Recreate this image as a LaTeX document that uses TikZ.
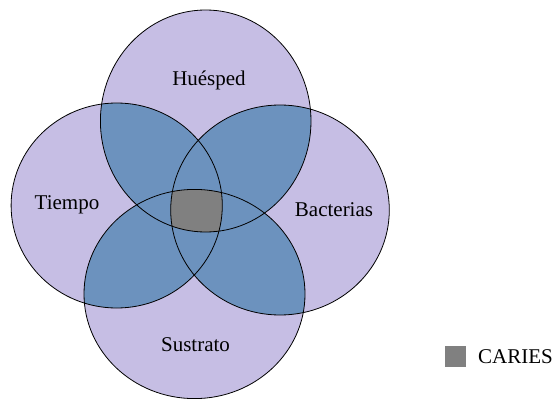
\documentclass[tikz,border=0pt]{standalone}
\usepackage{fontspec}
\setmainfont{Liberation Serif}
\definecolor{lav}{RGB}{198,190,228}
\definecolor{ovl}{RGB}{108,146,190}
\definecolor{core}{RGB}{128,128,128}
\begin{document}
\begin{tikzpicture}[x=1pt,y=-1pt,
  lbl/.style={font=\fontsize{21}{25}\selectfont, anchor=base, inner sep=0pt},
  outline/.style={draw=black, line width=0.8pt}]
\useasboundingbox (0,0) rectangle (555,399);
\coordinate (cT) at (205.7,121);
\coordinate (cL) at (116.7,205.5);
\coordinate (cR) at (280,210);
\coordinate (cB) at (194.5,294);
\def\shT{(cT) ellipse [x radius=105.3, y radius=111]}
\def\shL{(cL) ellipse [x radius=105.6, y radius=102.5]}
\def\shR{(cR) ellipse [x radius=109.3, y radius=105]}
\def\shB{(cB) ellipse [x radius=110.5, y radius=104.6]}
% single regions
\fill[lav] \shT; \fill[lav] \shL; \fill[lav] \shR; \fill[lav] \shB;
% pairwise overlaps
\begin{scope}\clip \shT; \fill[ovl] \shL; \fill[ovl] \shR; \fill[ovl] \shB;\end{scope}
\begin{scope}\clip \shL; \fill[ovl] \shR; \fill[ovl] \shB;\end{scope}
\begin{scope}\clip \shR; \fill[ovl] \shB;\end{scope}
% four-way
\begin{scope}\clip \shT; \clip \shL; \clip \shR; \fill[core] \shB;\end{scope}
% outlines
\draw[outline] \shT; \draw[outline] \shL; \draw[outline] \shR; \draw[outline] \shB;
% labels
\node[lbl] (huesped) at (209,85) {Huésped};
\node[lbl] (tiempo) at (67,209) {Tiempo};
\node[lbl] (bacterias) at (334,216) {Bacterias};
\node[lbl] (sustrato) at (195.5,351) {Sustrato};
% legend
\node[fill=core, minimum size=21pt, inner sep=0pt] (legbox) at (455,356) {};
\node[lbl, anchor=base west] (caries) at (478,363) {CARIES};
\end{tikzpicture}
\end{document}
